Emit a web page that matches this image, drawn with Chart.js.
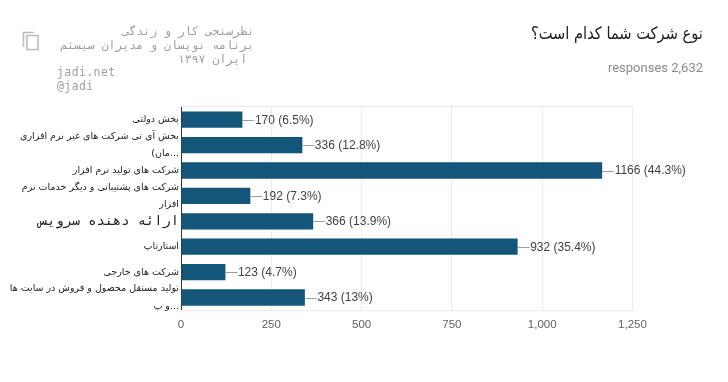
<!DOCTYPE html>
<html>
<head>
<meta charset="utf-8">
<script src="https://cdn.jsdelivr.net/npm/chart.js@4"></script>
<style>
  html, body { margin: 0; padding: 0; background: #fff; }
  #page { position: relative; width: 728px; height: 382px; overflow: hidden; }
  #chartBox { position: absolute; left: 0; top: 0; width: 728px; height: 382px; }
  .sheetName { position: absolute; left: 57px; top: 24px; width: 197px; font: 11.5px/14px "DejaVu Sans Mono", monospace; color: #9e9e9e; letter-spacing: 0.4px; white-space: pre; }
  .title { position: absolute; right: 25px; top: 20px; font: 17px/26px "DejaVu Sans", sans-serif; color: #212121; direction: rtl; transform: scaleX(0.86); transform-origin: right center; white-space: nowrap; }
  .count { position: absolute; right: 25px; top: 60px; font: 13px/16px "Roboto", sans-serif; color: #8a8a8a; white-space: nowrap; }
  #copyIcon { position: absolute; left: 22px; top: 31px; }
</style>
</head>
<body>
<div id="page">
  <div id="chartBox"><canvas id="chart"></canvas></div>
  <svg id="copyIcon" width="18" height="20" viewBox="0 0 18 20">
    <path d="M1.5 16V1.5H12M5 4.5H16V18.5H5Z" fill="none" stroke="#bdbdbd" stroke-width="1.6"/>
  </svg>
  <div class="sheetName" id="sheetName"></div>
  <div class="title" id="title"></div>
  <div class="count" id="count"></div>
</div>
<script>
// DATA
const categories = [
  ["بخش دولتی"],
  ["بخش آی تی شرکت های غیر نرم افزاری", "...مان)"],
  ["شرکت های تولید نرم افزار"],
  ["شرکت های پشتیبانی و دیگر خدمات نرم", "افزار"],
  ["ارائه دهنده سرویس"],
  ["استارتاپ"],
  ["شرکت های خارجی"],
  ["تولید مستقل محصول و فروش در سایت ها", "...و پ"]
];
const responses = [170, 336, 1166, 192, 366, 932, 123, 343];
const percents = ["6.5%", "12.8%", "44.3%", "7.3%", "13.9%", "35.4%", "4.7%", "13%"];
const bigLabelIndex = 4;

// HEADER TEXT
const sheetName = document.getElementById("sheetName");
sheetName.textContent = "نظرسنجی کار و زندگی\nبرنامه نویسان و مدیران سیستم\n ایران ۱۳۹۷";
sheetName.style.direction = "rtl";
document.getElementById("title").textContent = "نوع شرکت شما کدام است؟";
document.getElementById("count").textContent = "responses 2,632";

// the latin lines under the sheet name are left aligned
const handle = document.createElement("div");
handle.className = "sheetName";
handle.style.top = "65px";
handle.style.direction = "ltr";
handle.textContent = "jadi.net\n@jadi";
document.getElementById("page").appendChild(handle);

// tick labels are persian, so the canvas has to run right to left
const rtlText = {
  id: "rtlText",
  beforeDraw(chart) {
    chart.ctx.direction = "rtl";
  }
};

// light lines closing the plot at top and bottom
const plotEdges = {
  id: "plotEdges",
  beforeDatasetsDraw(chart) {
    const { ctx, chartArea } = chart;
    ctx.save();
    ctx.strokeStyle = "#ebebeb";
    ctx.lineWidth = 1;
    ctx.beginPath();
    ctx.moveTo(chartArea.left, chartArea.top - 0.5);
    ctx.lineTo(chartArea.right, chartArea.top - 0.5);
    ctx.moveTo(chartArea.left, chartArea.bottom + 0.5);
    ctx.lineTo(chartArea.right, chartArea.bottom + 0.5);
    ctx.stroke();
    ctx.restore();
  }
};

// leader line and value text next to each bar
const valueLabels = {
  id: "valueLabels",
  afterDatasetsDraw(chart) {
    const ctx = chart.ctx;
    const meta = chart.getDatasetMeta(0);
    ctx.save();
    ctx.direction = "ltr";
    ctx.font = '12px "Liberation Sans", Arial, sans-serif';
    ctx.textAlign = "left";
    ctx.textBaseline = "middle";
    meta.data.forEach((bar, i) => {
      ctx.strokeStyle = "#9e9e9e";
      ctx.lineWidth = 1;
      ctx.beginPath();
      ctx.moveTo(bar.x, Math.round(bar.y) + 0.5);
      ctx.lineTo(bar.x + 12, Math.round(bar.y) + 0.5);
      ctx.stroke();
      ctx.fillStyle = "#424242";
      ctx.fillText(`${responses[i]} (${percents[i]})`, bar.x + 12.5, bar.y + 0.5);
    });
    ctx.restore();
  }
};

new Chart(document.getElementById("chart"), {
  type: "bar",
  data: {
    labels: categories,
    datasets: [{
      data: responses,
      backgroundColor: "#14567a",
      categoryPercentage: 0.64,
      barPercentage: 1
    }]
  },
  plugins: [rtlText, plotEdges, valueLabels],
  options: {
    indexAxis: "y",
    responsive: true,
    maintainAspectRatio: false,
    animation: false,
    layout: { padding: { left: 0, right: 95.5, top: 107, bottom: 42 } },
    plugins: { legend: { display: false }, tooltip: { enabled: false } },
    scales: {
      x: {
        min: 0,
        max: 1250,
        ticks: {
          stepSize: 250,
          color: "#5f5f5f",
          padding: 8,
          maxRotation: 0,
          font: { family: '"Liberation Sans", Arial, sans-serif', size: 11.5 },
          callback: v => v.toLocaleString("en-US")
        },
        grid: { color: "#ebebeb", drawTicks: false },
        border: { display: false }
      },
      y: {
        afterFit(scale) { scale.width = 181; },
        ticks: {
          color: "#222222",
          padding: 2,
          autoSkip: false,
          font: ctx => ctx.index === bigLabelIndex
            ? { family: '"DejaVu Sans Mono", monospace', size: 13.7, lineHeight: 1.2 }
            : { family: '"DejaVu Sans", sans-serif', size: 9.5, lineHeight: 1.8 }
        },
        grid: { display: false, drawTicks: false },
        border: { display: true, color: "#333333", width: 1 }
      }
    }
  }
});
</script>
</body>
</html>
